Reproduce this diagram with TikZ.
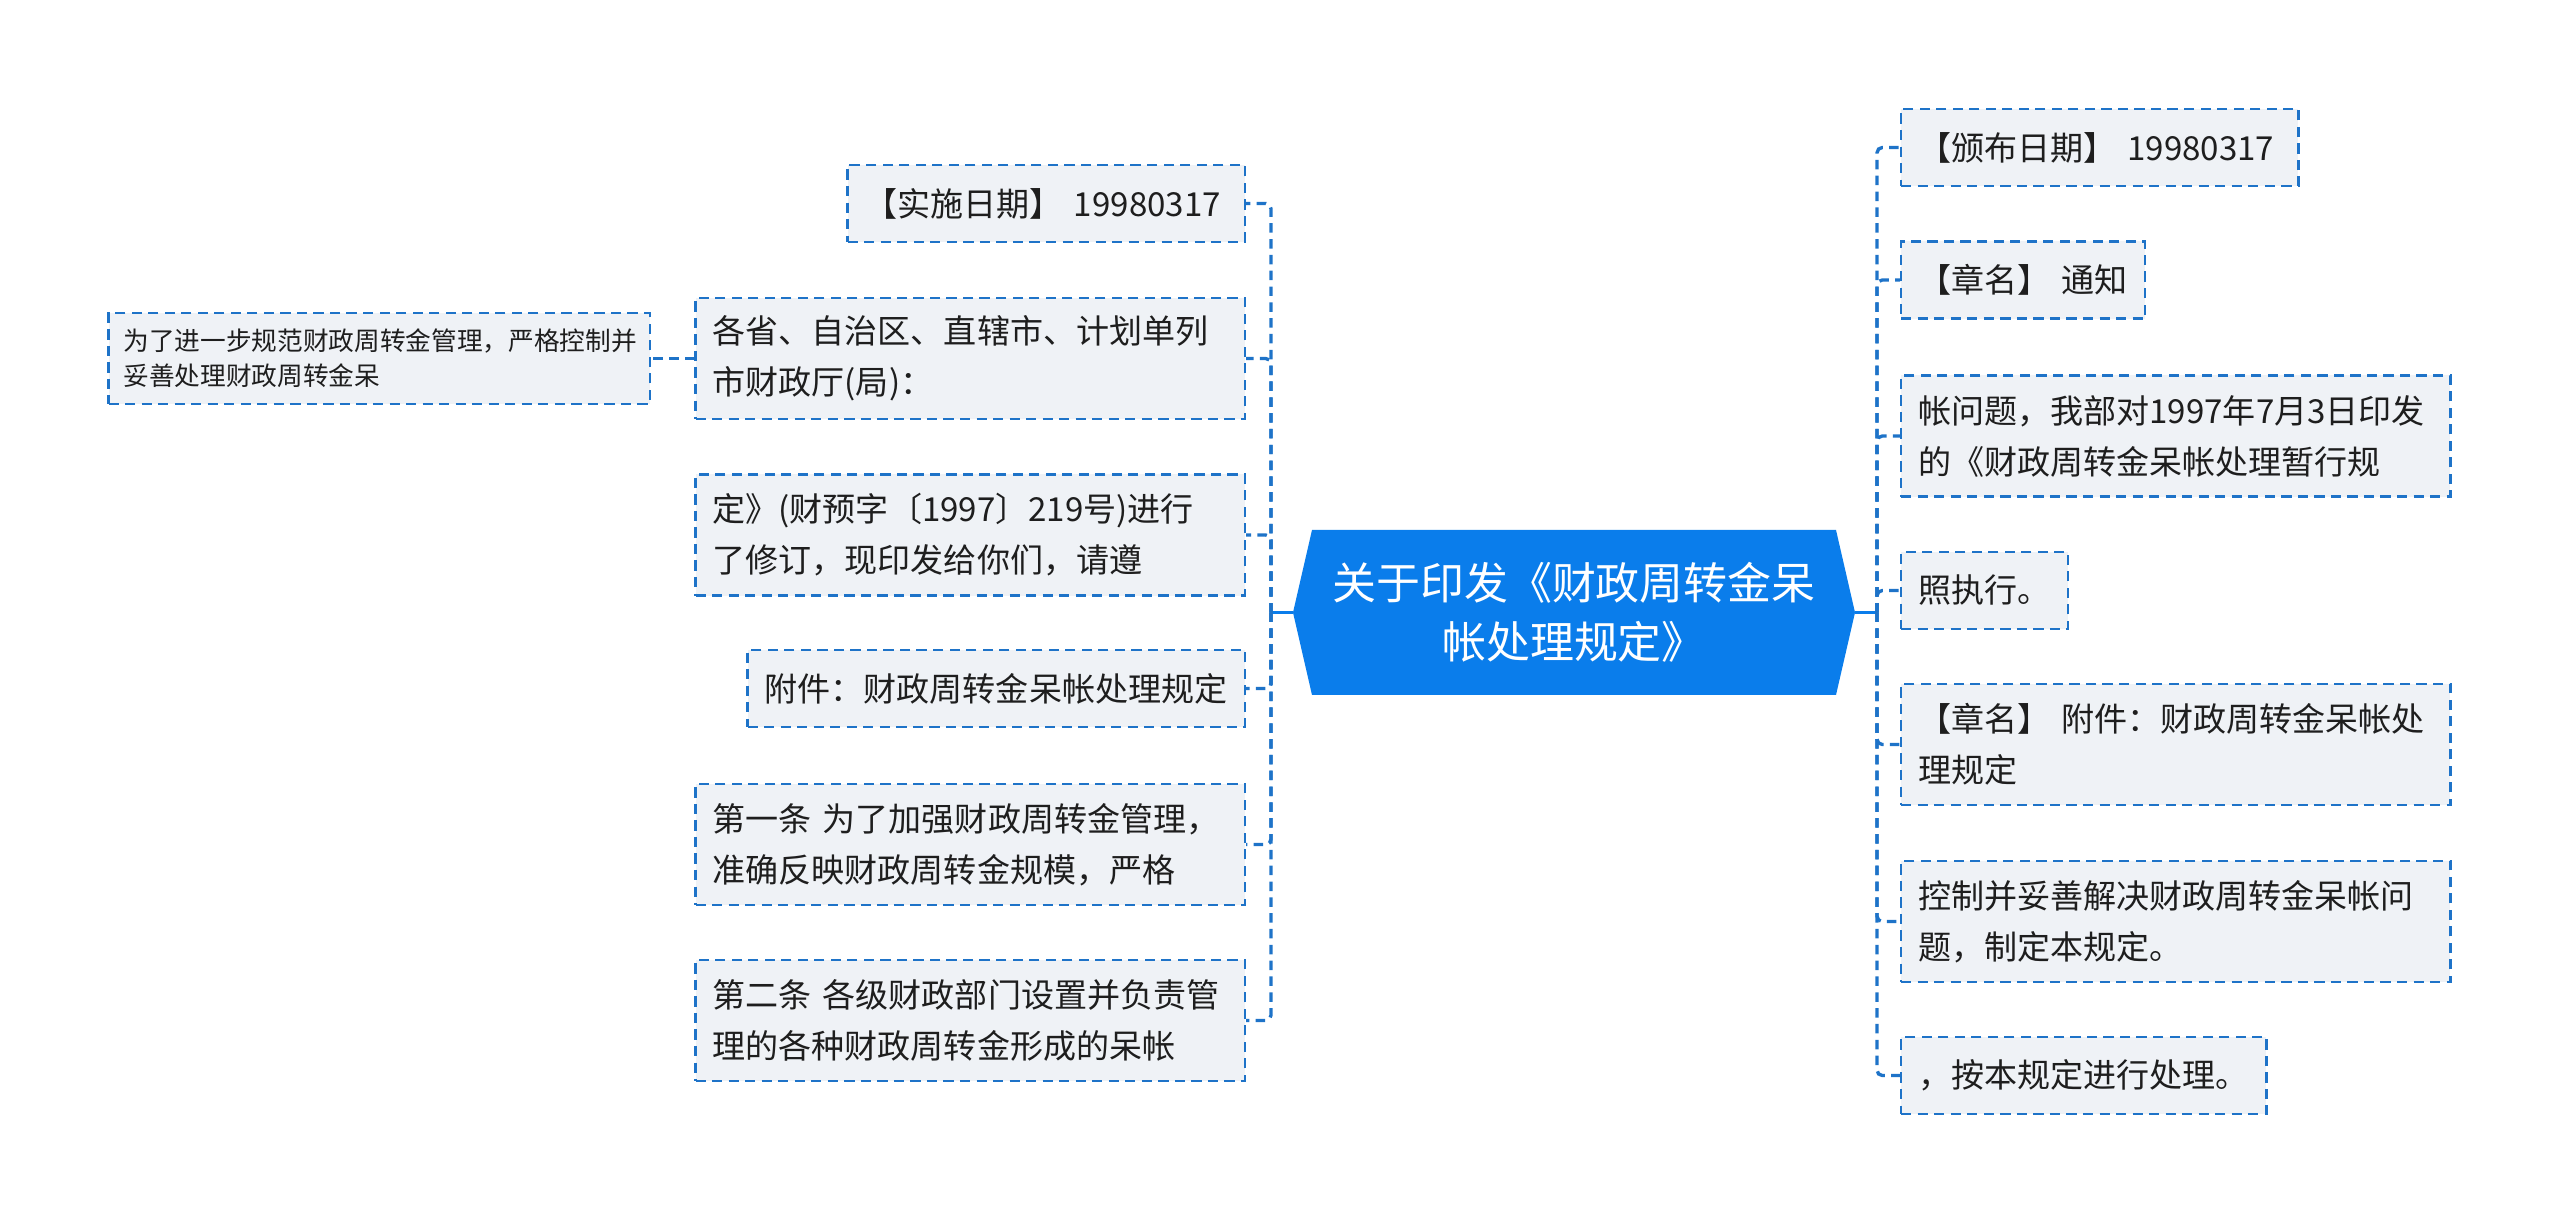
\documentclass[tikz,border=0pt]{standalone}
\usepackage{fontspec}
\setmainfont{Noto Sans CJK SC}

\definecolor{rootblue}{RGB}{10,125,235}
\definecolor{linkblue}{RGB}{30,115,200}
\definecolor{leaffill}{RGB}{239,242,246}
\definecolor{inkgray}{RGB}{30,30,30}

\tikzset{
  leaf/.style={draw=linkblue, line width=0.65pt, dash pattern=on 2.9pt off 1.8pt,
    fill=leaffill, text=inkgray, font=\fontsize{9.4pt}{14.5pt}\selectfont,
    align=left, inner xsep=0.17cm, inner ysep=0pt, minimum height=0.77cm},
  twoline/.style={minimum height=1.21cm},
  link/.style={draw=linkblue, line width=0.95pt, dash pattern=on 2.7pt off 1.8pt, rounded corners=1.5pt},
  stub/.style={draw=rootblue, line width=0.95pt},
}

\begin{document}
\begin{tikzpicture}[x=0.01cm,y=-0.01cm]
\useasboundingbox (0,0) rectangle (2560,1225);

% root
\coordinate (hl) at (1293,612.5);
\coordinate (hr) at (1855,612.5);
\fill[rootblue] (1312,530) -- (1836,530) -- (hr) -- (1836,695) -- (1312,695) -- (hl) -- cycle;
\node[text=white, align=center, font=\fontsize{12.5pt}{16.8pt}\selectfont] (root) at (1574,612.5)
  {关于印发《财政周转金呆\\帐处理规定》};

\coordinate (ls) at (1271,612.5);
\coordinate (rs) at (1877,612.5);

% left side
\node[leaf, text width=3.63cm, anchor=east] (l1) at (1246,203.5) {【实施日期】 19980317};
\node[leaf, twoline, text width=5.15cm, anchor=east] (l2) at (1246,358.5)
  {各省、自治区、直辖市、计划单列\\市财政厅(局)：};
\node[leaf, twoline, text width=5.15cm, anchor=east] (l3) at (1246,535)
  {定》(财预字〔1997〕219号)进行\\了修订，现印发给你们，请遵};
\node[leaf, text width=4.63cm, anchor=east] (l4) at (1246,688.5) {附件：财政周转金呆帐处理规定};
\node[leaf, twoline, text width=5.15cm, anchor=east] (l5) at (1246,844.5)
  {第一条 为了加强财政周转金管理，\\准确反映财政周转金规模，严格};
\node[leaf, twoline, text width=5.15cm, anchor=east] (l6) at (1246,1020.5)
  {第二条 各级财政部门设置并负责管\\理的各种财政周转金形成的呆帐};

\node[leaf, font=\fontsize{7.3pt}{10pt}\selectfont, text width=5.11cm, inner xsep=0.15cm,
  minimum height=0.91cm, anchor=east] (sm) at (651,358.5)
  {为了进一步规范财政周转金管理，严格控制并\\妥善处理财政周转金呆};

% right side
\node[leaf, text width=3.63cm, anchor=west] (r1) at (1900,147.5) {【颁布日期】 19980317};
\node[leaf, text width=2.10cm, anchor=west] (r2) at (1900,280) {【章名】 通知};
\node[leaf, twoline, text width=5.15cm, anchor=west] (r3) at (1900,436)
  {帐问题，我部对1997年7月3日印发\\的《财政周转金呆帐处理暂行规};
\node[leaf, text width=1.33cm, anchor=west] (r4) at (1900,590.5) {照执行。};
\node[leaf, twoline, text width=5.15cm, anchor=west] (r5) at (1900,744.5)
  {【章名】 附件：财政周转金呆帐处\\理规定};
\node[leaf, twoline, text width=5.15cm, anchor=west] (r6) at (1900,921.5)
  {控制并妥善解决财政周转金呆帐问\\题，制定本规定。};
\node[leaf, text width=3.31cm, anchor=west] (r7) at (1900,1075.5) {，按本规定进行处理。};

% connectors
\draw[stub] (hl) -- (ls);
\draw[stub] (hr) -- (rs);
\foreach \n in {l1,l2,l3,l4,l5,l6}
  \draw[link] (ls) |- (\n.east);
\foreach \n in {r1,r2,r3,r4,r5,r6,r7}
  \draw[link] (rs) |- (\n.west);
\draw[link] (l2.west) -- (sm.east);

\end{tikzpicture}
\end{document}
